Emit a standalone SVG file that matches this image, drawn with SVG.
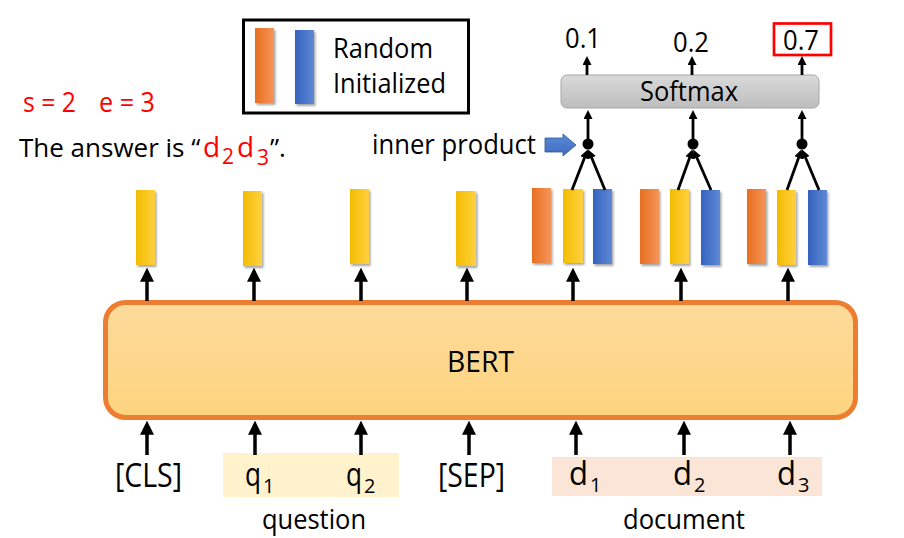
<svg xmlns="http://www.w3.org/2000/svg" width="904" height="538" viewBox="0 0 904 538">
<defs>
<linearGradient id="gOrange" x1="0" y1="0" x2="1" y2="0"><stop offset="0" stop-color="#E86F1F"/><stop offset="1" stop-color="#F5955A"/></linearGradient>
<linearGradient id="gBlue" x1="0" y1="0" x2="1" y2="0"><stop offset="0" stop-color="#3562BE"/><stop offset="1" stop-color="#5F89D6"/></linearGradient>
<linearGradient id="gYellow" x1="0" y1="0" x2="1" y2="0"><stop offset="0" stop-color="#F3BC00"/><stop offset="1" stop-color="#FFD141"/></linearGradient>
<linearGradient id="gBert" x1="0" y1="0" x2="0" y2="1"><stop offset="0" stop-color="#FDDA9B"/><stop offset="1" stop-color="#FDD47E"/></linearGradient>
<linearGradient id="gSoft" x1="0" y1="0" x2="0" y2="1"><stop offset="0" stop-color="#DADADA"/><stop offset="1" stop-color="#BDBDBD"/></linearGradient>
<linearGradient id="gArrow" x1="0" y1="0" x2="0" y2="1"><stop offset="0" stop-color="#5B8AD8"/><stop offset="1" stop-color="#3F6CC0"/></linearGradient>
<filter id="sh" x="-40%" y="-20%" width="180%" height="140%"><feDropShadow dx="1.5" dy="2" stdDeviation="1.3" flood-color="#000" flood-opacity="0.35"/></filter>
<marker id="ah" markerUnits="userSpaceOnUse" markerWidth="14" markerHeight="14" viewBox="0 0 12 12" refX="4" refY="6" orient="auto"><path d="M0,0 L12,6 L0,12 z" fill="#000"/></marker>
<marker id="ahs" markerUnits="userSpaceOnUse" markerWidth="9" markerHeight="9" viewBox="0 0 9 9" refX="3" refY="4.5" orient="auto"><path d="M0,0 L9,4.5 L0,9 z" fill="#000"/></marker>
<style>
text{font-family:"Open Sans","Noto Sans","Liberation Sans",sans-serif;fill:#000}
.red{fill:#FF0000}
.tok{font-size:32px}
.sub{font-size:20px}
.lbl{font-size:28px}
.o{fill:url(#gOrange);filter:url(#sh)}
.b{fill:url(#gBlue);filter:url(#sh)}
.y{fill:url(#gYellow);filter:url(#sh)}
.ln{stroke:#000;stroke-width:3.5;fill:none;marker-end:url(#ah)}
.ls{stroke:#000;stroke-width:2.8;fill:none;marker-end:url(#ahs)}
</style>
</defs>
<rect width="904" height="538" fill="#fff"/>

<g id="answer">
<text x="23" y="112" font-size="27" class="red" textLength="53" lengthAdjust="spacingAndGlyphs">s = 2</text>
<text x="99" y="112" font-size="27" class="red" textLength="56" lengthAdjust="spacingAndGlyphs">e = 3</text>
<text x="19" y="157" font-size="26">The answer is “<tspan x="203" class="red" font-size="28">d</tspan><tspan x="222" y="164" class="red" font-size="21">2</tspan><tspan x="237" y="157" class="red" font-size="28">d</tspan><tspan x="257" y="165" class="red" font-size="21">3</tspan><tspan x="270" y="157">”.</tspan></text>
</g>

<g id="legend">
<rect x="243.5" y="20" width="225" height="93" fill="#fff" stroke="#000" stroke-width="3"/>
<rect class="o" x="255" y="28" width="19" height="75"/>
<rect class="b" x="295" y="30" width="19" height="74"/>
<text x="333" y="58" font-size="28" textLength="100" lengthAdjust="spacingAndGlyphs">Random</text>
<text x="333" y="93" font-size="28" textLength="113" lengthAdjust="spacingAndGlyphs">Initialized</text>
</g>

<g id="softmax">
<rect x="561" y="75" width="258" height="33" rx="6" fill="url(#gSoft)" stroke="#A6A6A6" stroke-width="1"/>
<text x="640" y="101" font-size="28" textLength="98" lengthAdjust="spacingAndGlyphs">Softmax</text>
</g>

<g id="probs">
<text x="565" y="48" font-size="27" textLength="36" lengthAdjust="spacingAndGlyphs">0.1</text>
<text x="673" y="52" font-size="27" textLength="36" lengthAdjust="spacingAndGlyphs">0.2</text>
<text x="783" y="50" font-size="27" textLength="36" lengthAdjust="spacingAndGlyphs">0.7</text>
<rect x="774" y="23.5" width="57" height="31.5" fill="none" stroke="#FF0000" stroke-width="2.7"/>
</g>

<g id="inner-product">
<text x="372" y="154" font-size="28" textLength="164" lengthAdjust="spacingAndGlyphs">inner product</text>
<path d="M545,138 L563,138 L563,134 L576,145 L563,156 L563,152 L545,152 z" fill="url(#gArrow)" stroke="#2F5597" stroke-width="0.8"/>
</g>

<g id="dots">
<circle cx="588" cy="144" r="5.5" fill="#000"/>
<circle cx="693" cy="144" r="5.5" fill="#000"/>
<circle cx="802" cy="144" r="5.5" fill="#000"/>
</g>

<g id="vec-cls"><rect class="y" x="136" y="190" width="19" height="75"/></g>
<g id="vec-q1"><rect class="y" x="243" y="191" width="19" height="75"/></g>
<g id="vec-q2"><rect class="y" x="350" y="189" width="19" height="75"/></g>
<g id="vec-sep"><rect class="y" x="456" y="191" width="20" height="75"/></g>
<g id="vec-d1">
<rect class="o" x="532" y="188" width="19" height="75"/>
<rect class="y" x="563" y="189" width="20" height="74"/>
<rect class="b" x="593" y="189" width="19" height="75"/>
</g>
<g id="vec-d2">
<rect class="o" x="640" y="189" width="19" height="75"/>
<rect class="y" x="670" y="189" width="19" height="75"/>
<rect class="b" x="701" y="190" width="19" height="75"/>
</g>
<g id="vec-d3">
<rect class="o" x="747" y="189" width="19" height="75"/>
<rect class="y" x="777" y="190" width="19" height="75"/>
<rect class="b" x="808" y="190" width="19" height="75"/>
</g>

<g id="bert">
<rect x="105.5" y="302.5" width="750" height="115" rx="20" fill="url(#gBert)" stroke="#ED7D31" stroke-width="5"/>
<text x="447" y="372" font-size="30" textLength="67" lengthAdjust="spacingAndGlyphs">BERT</text>
</g>

<g id="question">
<rect x="223" y="453" width="176" height="44" fill="#FFF2CC"/>
<text x="245" y="486" class="tok" textLength="16" lengthAdjust="spacingAndGlyphs">q</text><text x="263" y="493" class="sub">1</text>
<text x="346" y="486" class="tok" textLength="16" lengthAdjust="spacingAndGlyphs">q</text><text x="364" y="493" class="sub">2</text>
<text x="262" y="529" class="lbl" textLength="104" lengthAdjust="spacingAndGlyphs">question</text>
</g>
<g id="tok-cls"><text x="115" y="487" class="tok" textLength="67" lengthAdjust="spacingAndGlyphs">[CLS]</text></g>
<g id="tok-sep"><text x="438" y="487" class="tok" textLength="67" lengthAdjust="spacingAndGlyphs">[SEP]</text></g>
<g id="document">
<rect x="552" y="457" width="270" height="39" fill="#FBE5D6"/>
<text x="569" y="485" class="tok" textLength="19" lengthAdjust="spacingAndGlyphs">d</text><text x="590" y="492" class="sub">1</text>
<text x="673" y="485" class="tok" textLength="19" lengthAdjust="spacingAndGlyphs">d</text><text x="694" y="492" class="sub">2</text>
<text x="777" y="485" class="tok" textLength="19" lengthAdjust="spacingAndGlyphs">d</text><text x="798" y="492" class="sub">3</text>
<text x="623" y="529" class="lbl" textLength="122" lengthAdjust="spacingAndGlyphs">document</text>
</g>

<g id="connectors">
<line class="ln" x1="147" y1="455" x2="147" y2="430"/>
<line class="ln" x1="255" y1="455" x2="255" y2="430"/>
<line class="ln" x1="361" y1="455" x2="361" y2="430"/>
<line class="ln" x1="469" y1="455" x2="469" y2="430"/>
<line class="ln" x1="576" y1="455" x2="576" y2="430"/>
<line class="ln" x1="684" y1="455" x2="684" y2="430"/>
<line class="ln" x1="790" y1="455" x2="790" y2="430"/>

<line class="ln" x1="147" y1="301" x2="147" y2="277"/>
<line class="ln" x1="254" y1="301" x2="254" y2="277"/>
<line class="ln" x1="361" y1="301" x2="361" y2="277"/>
<line class="ln" x1="467" y1="301" x2="467" y2="277"/>
<line class="ln" x1="573" y1="301" x2="573" y2="277"/>
<line class="ln" x1="681" y1="301" x2="681" y2="277"/>
<line class="ln" x1="788" y1="301" x2="788" y2="277"/>

<line class="ls" x1="572" y1="190" x2="585.6" y2="155"/>
<line class="ls" x1="605" y1="190" x2="590.5" y2="155"/>
<line class="ls" x1="678" y1="190" x2="690.6" y2="155"/>
<line class="ls" x1="711" y1="190" x2="695.7" y2="155"/>
<line class="ls" x1="787" y1="190" x2="799.6" y2="155"/>
<line class="ls" x1="819" y1="190" x2="804.4" y2="155"/>

<line class="ls" x1="588" y1="144" x2="588" y2="116"/>
<line class="ls" x1="693" y1="144" x2="693" y2="116"/>
<line class="ls" x1="802" y1="144" x2="802" y2="116"/>

<line class="ls" x1="587" y1="75" x2="587" y2="62"/>
<line class="ls" x1="692" y1="75" x2="692" y2="62"/>
<line class="ls" x1="802" y1="75" x2="802" y2="62"/>
</g>
</svg>
